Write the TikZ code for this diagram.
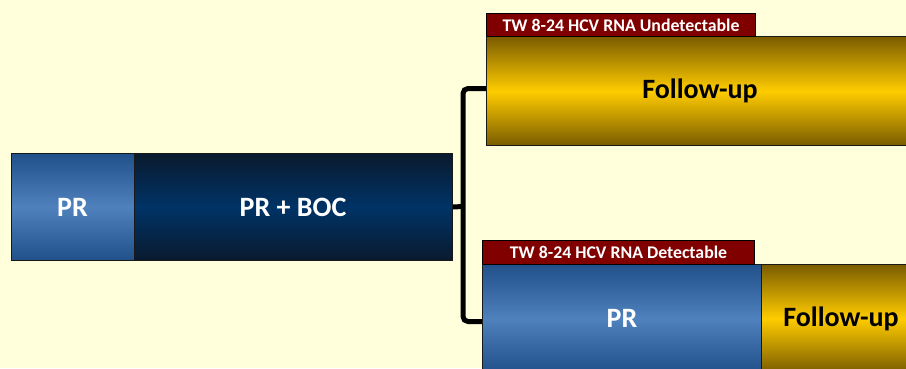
\documentclass[tikz,border=0pt]{standalone}
\usepackage{fontspec}
\setmainfont{Carlito}
\definecolor{pagebg}{HTML}{FFFFDC}
\definecolor{bluemid}{HTML}{4F81BD}
\definecolor{blueedge}{HTML}{21508A}
\definecolor{navymid}{HTML}{003366}
\definecolor{navyedge}{HTML}{0A1A2E}
\definecolor{goldmid}{HTML}{FFCC00}
\definecolor{goldedge}{HTML}{7A5C00}
\definecolor{labelred}{HTML}{800000}
\begin{document}
\begin{tikzpicture}[x=1pt,y=-1pt,
  box/.style={draw=black!90, line width=1pt, anchor=north west, inner sep=0pt,
    font=\bfseries\fontsize{28}{32}\selectfont},
  bluebox/.style={box, top color=blueedge, bottom color=blueedge, middle color=bluemid, text=white},
  navybox/.style={box, top color=navyedge, bottom color=navyedge, middle color=navymid, text=white},
  goldbox/.style={box, top color=goldedge, bottom color=goldedge, middle color=goldmid, text=black},
  tag/.style={draw=black, line width=1pt, fill=labelred, text=white, anchor=north west, inner sep=0pt,
    font=\bfseries\fontsize{17.8}{20}\selectfont},
  bracket/.style={line width=5pt, draw=black, rounded corners=5pt},
  edge/.style={draw=black!90, line width=1pt}
]
\useasboundingbox (0,0) rectangle (906,368);
\fill[pagebg] (0,0) rectangle (906,368);
\clip (0,0) rectangle (906,368);

% initial treatment phases
\node[bluebox, minimum width=123pt, minimum height=107pt] (pr) at (10.5,153) {PR};
\node[navybox, minimum width=318pt, minimum height=107pt] (boc) at (133.5,153) {PR + BOC};

% branch: undetectable
\node[goldbox, minimum width=427pt, minimum height=109pt] (fu1) at (486,36) {Follow-up};
\node[tag, minimum width=269pt, minimum height=23pt] (tagu) at (486,13) {TW 8-24 HCV RNA Undetectable};

% branch: detectable
\node[bluebox, minimum width=279pt, minimum height=108pt] (pr2) at (482,264) {PR};
\node[goldbox, minimum width=159pt, minimum height=108pt] (fu2) at (761,264) {Follow-up};
\node[tag, minimum width=272pt, minimum height=24pt] (tagd) at (482,240) {TW 8-24 HCV RNA Detectable};

% bracket joining the two branches
\coordinate (split) at (463,206.5);
\draw[bracket] (boc.east) -- (split);
\draw[bracket] ([yshift=2.5pt]fu1.west) -| (split) |- ([yshift=-3pt]pr2.west);

% box edges drawn again over the bracket ends
\draw[edge] (boc.north east) -- (boc.south east);
\draw[edge] (fu1.north west) -- (fu1.south west);
\draw[edge] (pr2.north west) -- (pr2.south west);
\end{tikzpicture}
\end{document}
